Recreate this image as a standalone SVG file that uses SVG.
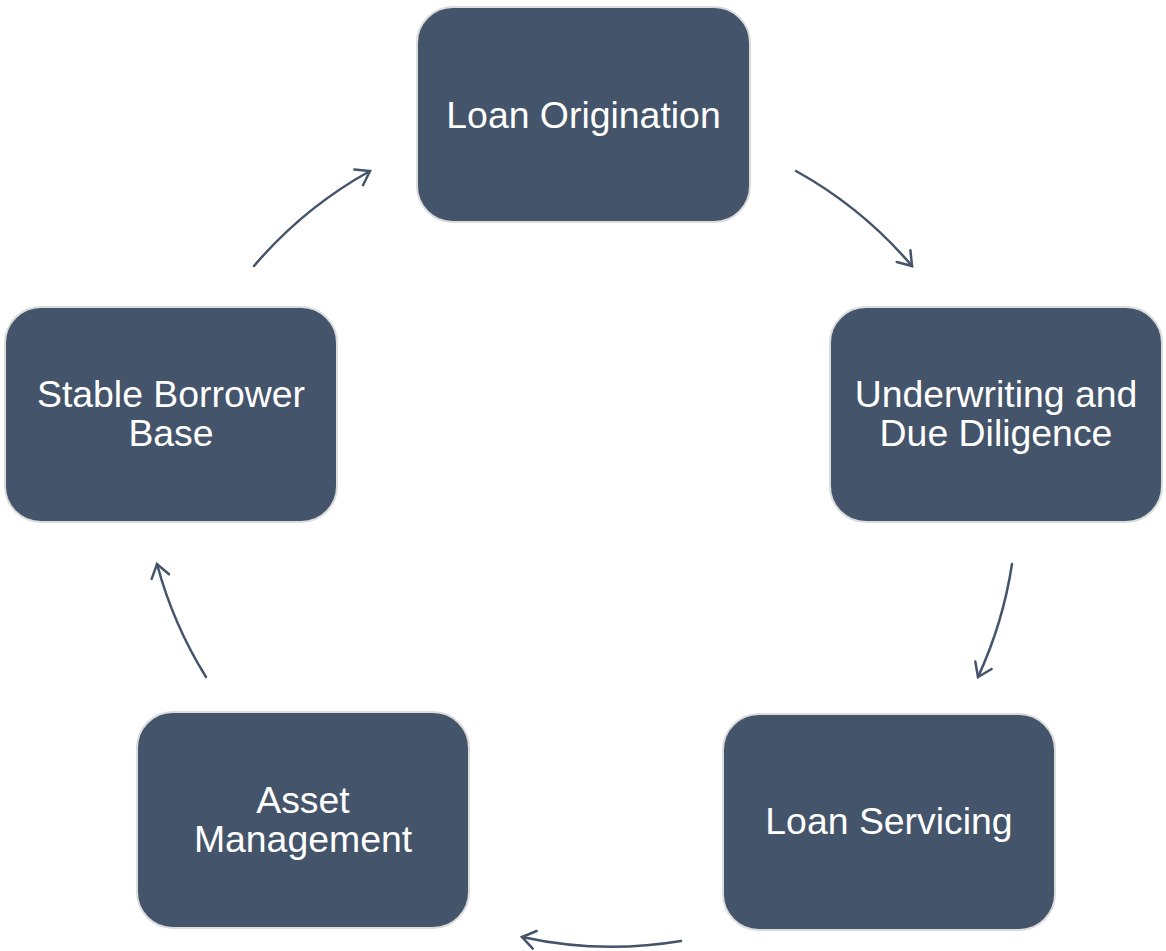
<svg xmlns="http://www.w3.org/2000/svg" width="1166" height="951" viewBox="0 0 1166 951">
  <style>
    .box { fill: #44546a; stroke: #dcdcdc; stroke-width: 2; }
    .label { fill: #ffffff; font-family: "Liberation Sans", Arial, sans-serif; font-size: 37.4px; text-anchor: middle; }
    .conn { fill: none; stroke: #44546a; stroke-width: 2.5; stroke-linecap: round; marker-end: url(#head); }
  </style>
  <defs>
    <marker id="head" markerUnits="userSpaceOnUse" markerWidth="30" markerHeight="30" viewBox="-20 -15 30 30" refX="0" refY="0" orient="auto">
      <path d="M -13 -9 L 0 0 L -13 9" fill="none" stroke="#44546a" stroke-width="2.5" stroke-linecap="round" stroke-linejoin="miter"/>
    </marker>
  </defs>
  <rect width="1166" height="951" fill="#ffffff"/>

  <g id="node-origination">
    <rect class="box" x="417" y="7" width="333" height="215" rx="36"/>
    <text class="label" x="583.5" y="128">Loan Origination</text>
  </g>
  <g id="node-underwriting">
    <rect class="box" x="830" y="307" width="332" height="215" rx="36"/>
    <text class="label" x="996" y="407">Underwriting and</text>
    <text class="label" x="996" y="446">Due Diligence</text>
  </g>
  <g id="node-servicing">
    <rect class="box" x="723" y="714" width="332" height="216" rx="36"/>
    <text class="label" x="889" y="834">Loan Servicing</text>
  </g>
  <g id="node-asset">
    <rect class="box" x="137" y="712" width="332" height="216" rx="36"/>
    <text class="label" x="303" y="813">Asset</text>
    <text class="label" x="303" y="852">Management</text>
  </g>
  <g id="node-borrower">
    <rect class="box" x="5" y="307" width="332" height="215" rx="36"/>
    <text class="label" x="171" y="407">Stable Borrower</text>
    <text class="label" x="171" y="446">Base</text>
  </g>

  <g id="connectors">
    <path class="conn" d="M 254 266 A 420 420 0 0 1 370 171"/>
    <path class="conn" d="M 796 171 A 420 420 0 0 1 912 266"/>
    <path class="conn" d="M 1012 564 A 420 420 0 0 1 978 677"/>
    <path class="conn" d="M 681 941 A 420 420 0 0 1 522 937"/>
    <path class="conn" d="M 206 677 A 420 420 0 0 1 157 564"/>
  </g>
</svg>
